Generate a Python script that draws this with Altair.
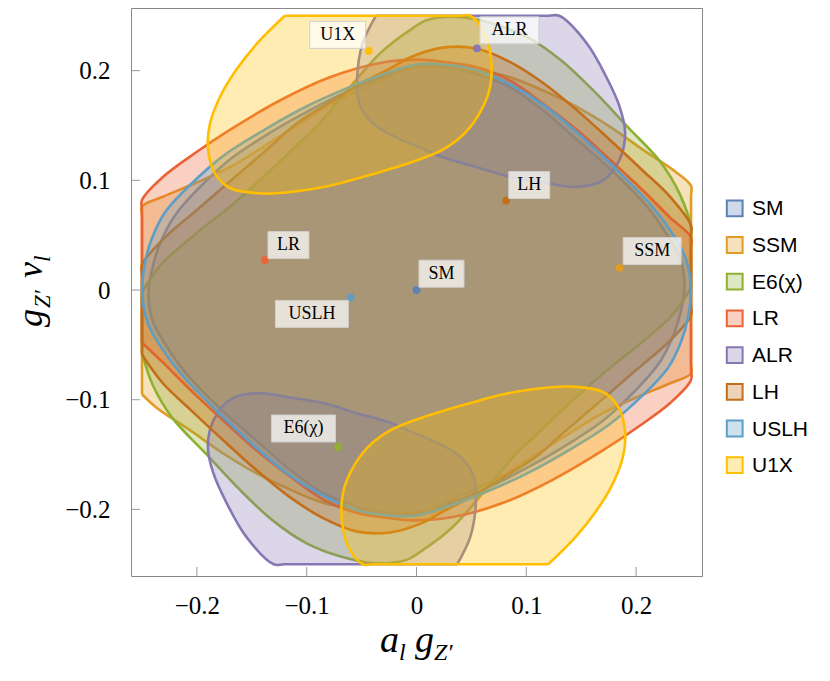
import altair as alt
import pandas as pd

# ---------------- data ----------------
models = ["SM", "SSM", "E6(χ)", "LR", "ALR", "LH", "USLH", "U1X"]
colors = ["#5E81B5", "#E19C24", "#8FB032", "#EB6235", "#8778B3", "#C56E1A", "#5D9EC7", "#FFBF00"]

sm_x = [-0.244, -0.239, -0.232, -0.220, -0.200, -0.170, -0.134, -0.097, -0.061, -0.024, 0.003, 0.030,
        0.055, 0.085, 0.115, 0.146, 0.179, 0.210, 0.231, 0.241,
        0.244, 0.239, 0.232, 0.220, 0.200, 0.170, 0.134, 0.097, 0.061, 0.024, -0.003, -0.030,
        -0.055, -0.085, -0.115, -0.146, -0.179, -0.210, -0.231, -0.241]
sm_y = [0.000, 0.026, 0.046, 0.068, 0.091, 0.119, 0.143, 0.164, 0.182, 0.197, 0.204, 0.203,
        0.197, 0.185, 0.164, 0.137, 0.108, 0.076, 0.046, 0.026,
        0.000, -0.026, -0.046, -0.068, -0.091, -0.119, -0.143, -0.164, -0.182, -0.197, -0.204, -0.203,
        -0.197, -0.185, -0.164, -0.137, -0.108, -0.076, -0.046, -0.026]

uslh_x = [-0.250, -0.247, -0.241, -0.229, -0.206, -0.175, -0.137, -0.099, -0.061, -0.024, 0.003, 0.030,
          0.056, 0.086, 0.118, 0.149, 0.183, 0.214, 0.236, 0.246,
          0.250, 0.247, 0.241, 0.229, 0.206, 0.175, 0.137, 0.099, 0.061, 0.024, -0.003, -0.030,
          -0.056, -0.086, -0.118, -0.149, -0.183, -0.214, -0.236, -0.246]
uslh_y = [0.000, 0.026, 0.047, 0.071, 0.096, 0.123, 0.147, 0.168, 0.185, 0.199, 0.206, 0.205,
          0.200, 0.187, 0.167, 0.141, 0.109, 0.077, 0.047, 0.026,
          0.000, -0.026, -0.047, -0.071, -0.096, -0.123, -0.147, -0.168, -0.185, -0.199, -0.206, -0.205,
          -0.200, -0.187, -0.167, -0.141, -0.109, -0.077, -0.047, -0.026]

lr_x = [-0.250, -0.250, -0.250, -0.250, -0.231, -0.200, -0.170, -0.124, -0.079, -0.033, 0.003, 0.024,
        0.055, 0.085, 0.115, 0.146, 0.176, 0.206, 0.231, 0.250, 0.250, 0.250, 0.250,
        0.231, 0.200, 0.170, 0.124, 0.079, 0.033, -0.003, -0.024, -0.055, -0.085, -0.115,
        -0.146, -0.176, -0.206, -0.231]
lr_y = [-0.048, -0.038, 0.072, 0.082, 0.103, 0.126, 0.146, 0.173, 0.194, 0.207, 0.210, 0.208,
        0.203, 0.191, 0.170, 0.146, 0.119, 0.091, 0.066, 0.048, 0.038, -0.072, -0.082,
        -0.103, -0.126, -0.146, -0.173, -0.194, -0.207, -0.210, -0.208, -0.203, -0.191, -0.170,
        -0.146, -0.119, -0.091, -0.066]

ssm_x = [-0.250, -0.250, -0.250, -0.250, -0.231, -0.200, -0.170, -0.134, -0.079, -0.033, -0.006, 0.024,
         0.055, 0.085, 0.115, 0.146, 0.176, 0.206, 0.237, 0.250, 0.250, 0.250, 0.250,
         0.231, 0.200, 0.170, 0.134, 0.079, 0.033, 0.006, -0.024, -0.055, -0.085, -0.115,
         -0.146, -0.176, -0.206, -0.237]
ssm_y = [-0.095, -0.085, 0.066, 0.076, 0.085, 0.098, 0.112, 0.134, 0.169, 0.191, 0.202, 0.203,
         0.200, 0.194, 0.182, 0.167, 0.149, 0.128, 0.107, 0.095, 0.085, -0.066, -0.076,
         -0.085, -0.098, -0.112, -0.134, -0.169, -0.191, -0.202, -0.203, -0.200, -0.194, -0.182,
         -0.167, -0.149, -0.128, -0.107]

lh_x = [-0.250, -0.250, -0.250, -0.250, -0.231, -0.200, -0.170, -0.134, -0.109, -0.079, -0.049, -0.024,
        -0.006, 0.024, 0.055, 0.085, 0.115, 0.146, 0.176, 0.206, 0.231, 0.250, 0.250, 0.250, 0.250,
        0.231, 0.200, 0.170, 0.134, 0.109, 0.079, 0.049, 0.024, 0.006, -0.024, -0.055, -0.085,
        -0.115, -0.146, -0.176, -0.206, -0.231]
lh_y = [-0.059, -0.049, 0.013, 0.023, 0.046, 0.073, 0.099, 0.130, 0.152, 0.171, 0.189, 0.202,
        0.212, 0.221, 0.220, 0.208, 0.189, 0.164, 0.137, 0.109, 0.085, 0.059, 0.049, -0.013, -0.023,
        -0.046, -0.073, -0.099, -0.130, -0.152, -0.171, -0.189, -0.202, -0.212, -0.221, -0.220, -0.208,
        -0.189, -0.164, -0.137, -0.109, -0.085]

e6_x = [-0.250, -0.250, -0.250, -0.250, -0.243, -0.231, -0.200, -0.170, -0.134, -0.109, -0.091, -0.063,
        -0.033, -0.003, 0.009, 0.039, 0.069, 0.100, 0.131, 0.161, 0.192, 0.222, 0.240,
        0.250, 0.250, 0.250, 0.250, 0.243, 0.231, 0.200, 0.170, 0.134, 0.109, 0.091, 0.063,
        0.033, 0.003, -0.009, -0.039, -0.069, -0.100, -0.131, -0.161, -0.192, -0.222, -0.240]
e6_y = [-0.057, -0.049, -0.011, -0.003, 0.009, 0.025, 0.052, 0.076, 0.108, 0.132, 0.149, 0.182,
        0.216, 0.239, 0.246, 0.249, 0.243, 0.231, 0.210, 0.182, 0.149, 0.117, 0.087,
        0.057, 0.049, 0.011, 0.003, -0.009, -0.025, -0.052, -0.076, -0.108, -0.132, -0.149, -0.182,
        -0.216, -0.239, -0.246, -0.249, -0.243, -0.231, -0.210, -0.182, -0.149, -0.117, -0.087]

alr_top_x = [-0.037, -0.027, 0.120, 0.130, 0.155, 0.173, 0.185, 0.190, 0.185, 0.170, 0.146, 0.115,
             0.085, 0.055, 0.024, 0.003, -0.018, -0.040, -0.052, -0.054, -0.049]
alr_top_y = [0.250, 0.250, 0.250, 0.250, 0.225, 0.194, 0.167, 0.143, 0.119, 0.100, 0.094, 0.098,
             0.103, 0.112, 0.121, 0.130, 0.139, 0.152, 0.170, 0.194, 0.225]
alr_bot_x = [0.037, 0.027, -0.120, -0.130, -0.155, -0.173, -0.185, -0.190, -0.185, -0.170, -0.146, -0.115,
             -0.085, -0.055, -0.024, -0.003, 0.018, 0.040, 0.052, 0.054, 0.049]
alr_bot_y = [-0.250, -0.250, -0.250, -0.250, -0.225, -0.194, -0.167, -0.143, -0.119, -0.100, -0.094, -0.098,
             -0.103, -0.112, -0.121, -0.130, -0.139, -0.152, -0.170, -0.194, -0.225]

u1x_top_x = [-0.120, -0.110, 0.039, 0.049, 0.062, 0.068, 0.067, 0.059, 0.044, 0.024, -0.006, -0.049,
             -0.079, -0.109, -0.140, -0.170, -0.184, -0.190, -0.188, -0.179, -0.164, -0.145]
u1x_top_y = [0.250, 0.250, 0.250, 0.250, 0.234, 0.210, 0.185, 0.164, 0.143, 0.128, 0.116, 0.103,
             0.095, 0.090, 0.088, 0.093, 0.107, 0.130, 0.152, 0.176, 0.201, 0.225]
u1x_bot_x = [0.120, 0.110, -0.039, -0.049, -0.062, -0.068, -0.067, -0.059, -0.044, -0.024, 0.006, 0.049,
             0.079, 0.109, 0.140, 0.170, 0.184, 0.190, 0.188, 0.179, 0.164, 0.145]
u1x_bot_y = [-0.250, -0.250, -0.250, -0.250, -0.234, -0.210, -0.185, -0.164, -0.143, -0.128, -0.116, -0.103,
             -0.095, -0.090, -0.088, -0.093, -0.107, -0.130, -0.152, -0.176, -0.201, -0.225]

# benchmark points, one per model (same order as models)
pt_x = [0.000, 0.185, -0.0715, -0.138, 0.055, 0.0817, -0.060, -0.0435]
pt_y = [0.000, 0.0203, -0.143, 0.0273, 0.2203, 0.0814, -0.0067, 0.218]

x_ticks = [-0.2, -0.1, 0.0, 0.1, 0.2]
y_ticks = [-0.2, -0.1, 0.0, 0.1, 0.2]

regions = {
    "SM": [(sm_x, sm_y)],
    "SSM": [(ssm_x, ssm_y)],
    "E6(χ)": [(e6_x, e6_y)],
    "LR": [(lr_x, lr_y)],
    "ALR": [(alr_top_x, alr_top_y), (alr_bot_x, alr_bot_y)],
    "LH": [(lh_x, lh_y)],
    "USLH": [(uslh_x, uslh_y)],
    "U1X": [(u1x_top_x, u1x_top_y), (u1x_bot_x, u1x_bot_y)],
}
# regions cut by the plot window start at a corner: draw them as open smooth
# curves that return to that corner; the others are smooth closed loops
smooth_closed = {"SM", "USLH"}

# ---------------- layout / style ----------------
W, H = 571, 568
XD = [-0.26, 0.26]
YD = [-0.2607, 0.2571]
KX = W / (XD[1] - XD[0])
KY = H / (YD[1] - YD[0])

SERIF = "Liberation Serif"
SANS = "Liberation Sans"

lab_expr = "datum.value == 0 ? '0' : format(datum.value, '.1f')"
xaxis = alt.Axis(values=x_ticks, labelExpr=lab_expr, tickSize=0, domain=False, grid=False, title=None,
                 labelFont=SERIF, labelFontSize=25, labelColor="black", labelPadding=17)
yaxis = alt.Axis(values=y_ticks, labelExpr=lab_expr, tickSize=0, domain=False, grid=False, title=None,
                 labelFont=SERIF, labelFontSize=25, labelColor="black", labelPadding=21)


def X(f):
    return alt.X(f, type="quantitative", scale=alt.Scale(domain=XD, nice=False, zero=False), axis=xaxis)


def Y(f):
    return alt.Y(f, type="quantitative", scale=alt.Scale(domain=YD, nice=False, zero=False), axis=yaxis)


layers = []

# filled regions, drawn in legend order
for name, col in zip(models, colors):
    rows = []
    closed = name in smooth_closed
    for p, (xs, ys) in enumerate(regions[name]):
        xs2, ys2 = list(xs), list(ys)
        if not closed:
            xs2.append(xs[0])
            ys2.append(ys[0])
        for i, (a, b) in enumerate(zip(xs2, ys2)):
            rows.append({"x": a, "y": b, "i": i, "p": p})
    layers.append(
        alt.Chart(pd.DataFrame(rows)).mark_line(
            interpolate="cardinal-closed" if closed else "catmull-rom",
            stroke=col, fill=col, fillOpacity=0.3,
            strokeWidth=2.6, strokeJoin="round"
        ).encode(x=X("x"), y=Y("y"), order="i:Q", detail="p:N")
    )

# inward ticks
tick_df_x = pd.DataFrame({"t": x_ticks})
tick_df_y = pd.DataFrame({"t": y_ticks})
layers.append(alt.Chart(tick_df_x).mark_rule(color="#999999", strokeWidth=1).encode(
    x=X("t"), y=alt.value(H), y2=alt.value(H - 9)))
layers.append(alt.Chart(tick_df_y).mark_rule(color="#999999", strokeWidth=1).encode(
    y=Y("t"), x=alt.value(0), x2=alt.value(9)))

# benchmark points
pts = pd.DataFrame({"model": models, "x": pt_x, "y": pt_y})
layers.append(alt.Chart(pts).mark_circle(size=60, opacity=1).encode(
    x=X("x"), y=Y("y"),
    color=alt.Color("model:N", scale=alt.Scale(domain=models, range=colors), legend=None)))

# label boxes (offsets in pixels are layout)
lab_dx = [25, 32.5, -34.5, 23.5, 32.5, 23, -38.7, -31]
lab_dy = [-16.3, -16.7, -18.4, -15, -18, -15.7, 16.5, -16]
lab_w = [45, 58, 64, 41, 59, 41, 73, 56]
lab_h = 27
lab = pts.copy()
lab["cx"] = [x + dx / KX for x, dx in zip(pt_x, lab_dx)]
lab["cy"] = [y - dy / KY for y, dy in zip(pt_y, lab_dy)]
lab["bx1"] = [c - w / 2 / KX for c, w in zip(lab["cx"], lab_w)]
lab["bx2"] = [c + w / 2 / KX for c, w in zip(lab["cx"], lab_w)]
lab["by1"] = [c - lab_h / 2 / KY for c in lab["cy"]]
lab["by2"] = [c + lab_h / 2 / KY for c in lab["cy"]]

layers.append(alt.Chart(lab).mark_rect(fill="white", fillOpacity=0.72, stroke="#cfcfcf", strokeWidth=1).encode(
    x=X("bx1"), x2="bx2", y=Y("by1"), y2="by2"))
layers.append(alt.Chart(lab).mark_text(font=SERIF, fontSize=18, color="black", baseline="middle", align="center").encode(
    x=X("cx"), y=Y("cy"), text="model:N"))

# legend (manual, right of the frame)
for k, (name, col) in enumerate(zip(models, colors)):
    ly = 200.3 + 36.7 * k
    one = pd.DataFrame({"m": [name]})
    layers.append(alt.Chart(one).mark_square(size=250, fill=col, fillOpacity=0.3, stroke=col, strokeWidth=2, opacity=1).encode(
        x=alt.value(603.7), y=alt.value(ly)))
    layers.append(alt.Chart(one).mark_text(font=SANS, fontSize=21, color="black", align="left", baseline="middle").encode(
        x=alt.value(621), y=alt.value(ly + 1), text="m:N"))


# axis titles built from pieces (italic with subscripts)
def piece(t, x, y, size, angle=0):
    return alt.Chart(pd.DataFrame({"t": [t]})).mark_text(
        font=SERIF, fontStyle="italic", fontSize=size, color="black", align="left",
        baseline="alphabetic", angle=angle).encode(x=alt.value(x), y=alt.value(y), text="t:N")


layers += [
    piece("a", 249, 644, 38), piece("l", 268, 652, 24),
    piece("g", 284, 644, 38), piece("Z′", 303, 652, 24),
    piece("g", -89, 319, 36, 270), piece("Z′", -81, 300, 23, 270),
    piece("v", -89, 270, 36, 270), piece("l", -81, 254, 23, 270),
]

chart = alt.layer(*layers).properties(
    width=W, height=H,
    autosize=alt.AutoSizeParams(type="none"),
    padding={"left": 123, "top": 0, "right": 110, "bottom": 92},
).configure_view(
    stroke="#888888", strokeWidth=1
).configure_axis(
    labelFont=SERIF, labelFontSize=25, labelColor="black"
)

chart.save("out.html", embed_options={"renderer": "svg", "actions": False})
